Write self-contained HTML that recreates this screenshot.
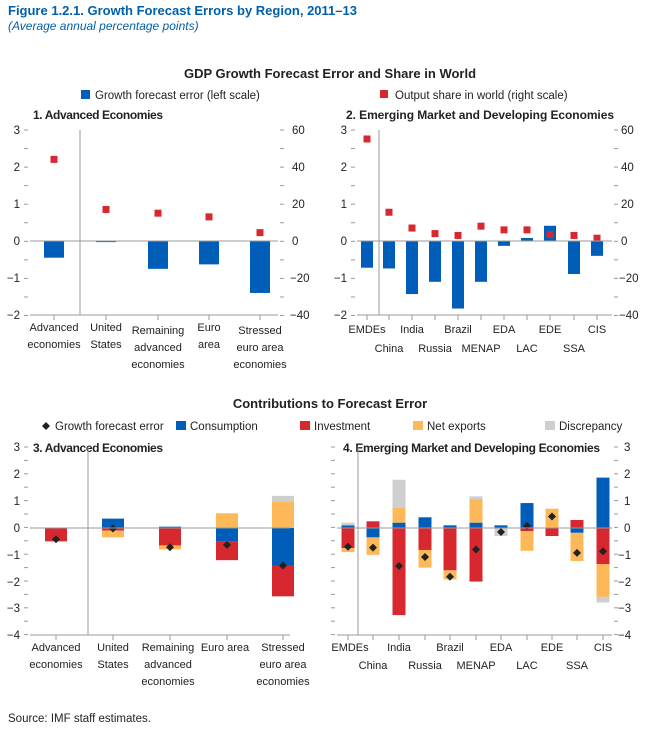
<!DOCTYPE html>
<html><head><meta charset="utf-8"><style>
body{margin:0;background:#fff;}
svg{display:block;font-family:"Liberation Sans",sans-serif;}
.t{font-size:11.5px;fill:#222}
.b{font-weight:bold;font-size:12px;fill:#222}
</style></head><body>
<svg id="s" width="662" height="729" viewBox="0 0 662 729">
<text x="8" y="15" style="font-size:13px;font-weight:bold;fill:#0060A9">Figure 1.2.1.  Growth Forecast Errors by Region, 2011–13</text>
<text x="8" y="30" style="font-size:12px;font-style:italic;fill:#0060A9">(Average annual percentage points)</text>
<text x="330" y="78" text-anchor="middle" class="b" style="font-size:13px">GDP Growth Forecast Error and Share in World</text>
<rect x="81" y="90" width="9" height="9" fill="#005EB8"/><text x="95" y="99" class="t">Growth forecast error (left scale)</text>
<rect x="380" y="90" width="8" height="8" fill="#D7282F"/><text x="395" y="99" class="t">Output share in world (right scale)</text>
<text x="33" y="119" class="b" textLength="130">1. Advanced Economies</text>
<text x="346" y="119" class="b" textLength="268">2. Emerging Market and Developing Economies</text>
<g class="t" text-anchor="end">
<text x="20" y="134">3</text><text x="20" y="171">2</text><text x="20" y="208">1</text><text x="20" y="245">0</text><text x="20" y="282">−1</text><text x="20" y="319">−2</text>
<text x="347" y="134">3</text><text x="347" y="171">2</text><text x="347" y="208">1</text><text x="347" y="245">0</text><text x="347" y="282">−1</text><text x="347" y="319">−2</text>
</g>
<g class="t">
<text x="292" y="134">60</text><text x="292" y="171">40</text><text x="292" y="208">20</text><text x="292" y="245">0</text><text x="290" y="282">−20</text><text x="290" y="319">−40</text>
<text x="621" y="134">60</text><text x="621" y="171">40</text><text x="621" y="208">20</text><text x="621" y="245">0</text><text x="619" y="282">−20</text><text x="619" y="319">−40</text>
</g>
<g class="t" text-anchor="middle" style="font-size:11px">
<text x="54" y="331">Advanced</text><text x="54" y="348">economies</text>
<text x="106" y="331">United</text><text x="106" y="348">States</text>
<text x="158" y="334">Remaining</text><text x="158" y="351">advanced</text><text x="158" y="368">economies</text>
<text x="209" y="331">Euro</text><text x="209" y="348">area</text>
<text x="260" y="334">Stressed</text><text x="260" y="351">euro area</text><text x="260" y="368">economies</text>
<text x="367" y="333">EMDEs</text><text x="389" y="352">China</text><text x="412" y="333">India</text><text x="435" y="352">Russia</text><text x="458" y="333">Brazil</text><text x="481" y="352">MENAP</text><text x="504" y="333">EDA</text><text x="527" y="352">LAC</text><text x="550" y="333">EDE</text><text x="574" y="352">SSA</text><text x="597" y="333">CIS</text>
</g>
<text x="330" y="408" text-anchor="middle" class="b" style="font-size:13px">Contributions to Forecast Error</text>
<path d="M46 422 l4 4 l-4 4 l-4 -4z" fill="#222"/><text x="55" y="430" class="t">Growth forecast error</text>
<rect x="176" y="421" width="10" height="9" fill="#005EB8"/><text x="190" y="430" class="t">Consumption</text>
<rect x="300" y="421" width="10" height="9" fill="#D7282F"/><text x="314" y="430" class="t">Investment</text>
<rect x="413" y="421" width="10" height="9" fill="#FDB859"/><text x="427" y="430" class="t">Net exports</text>
<rect x="545" y="421" width="10" height="9" fill="#CFCFCF"/><text x="559" y="430" class="t">Discrepancy</text>
<text x="33" y="452" class="b" textLength="130">3. Advanced Economies</text>
<text x="343" y="452" class="b" textLength="257">4. Emerging Market and Developing Economies</text>
<g class="t" text-anchor="end">
<text x="20" y="451">3</text><text x="20" y="478">2</text><text x="20" y="505">1</text><text x="20" y="532">0</text><text x="20" y="559">−1</text><text x="20" y="586">−2</text><text x="20" y="612">−3</text><text x="20" y="639">−4</text>
</g>
<g class="t">
<text x="624" y="451">3</text><text x="624" y="478">2</text><text x="624" y="505">1</text><text x="624" y="532">0</text><text x="618" y="559">−1</text><text x="618" y="586">−2</text><text x="618" y="612">−3</text><text x="618" y="639">−4</text>
</g>
<g class="t" text-anchor="middle" style="font-size:11px">
<text x="56" y="651">Advanced</text><text x="56" y="668">economies</text>
<text x="113" y="651">United</text><text x="113" y="668">States</text>
<text x="168" y="651">Remaining</text><text x="168" y="668">advanced</text><text x="168" y="685">economies</text>
<text x="225" y="651">Euro area</text>
<text x="283" y="651">Stressed</text><text x="283" y="668">euro area</text><text x="283" y="685">economies</text>
<text x="350" y="651">EMDEs</text><text x="373" y="669">China</text><text x="399" y="651">India</text><text x="425" y="669">Russia</text><text x="450" y="651">Brazil</text><text x="476" y="669">MENAP</text><text x="501" y="651">EDA</text><text x="527" y="669">LAC</text><text x="552" y="651">EDE</text><text x="577" y="669">SSA</text><text x="603" y="651">CIS</text>
</g>
<text x="8" y="722" class="t" style="font-size:11.5px">Source: IMF staff estimates.</text>
<g id="gg"></g>
</svg>
<script>
var gg=document.getElementById('gg'),NS="http://www.w3.org/2000/svg";
function el(n,a){var e=document.createElementNS(NS,n);for(var k in a)e.setAttribute(k,a[k]);gg.appendChild(e);return e;}
function ln(x1,y1,x2,y2,c){el('line',{x1:x1,y1:y1,x2:x2,y2:y2,stroke:c||'#999','stroke-width':1});}
var B='#005EB8',R='#D7282F',O='#FDB859',G='#CFCFCF';
function topPanel(x0,x1,sep,cats,vals,shares,w){
 var z=241,u=37.1;
 for(var i=0;i<=10;i++){var y=130+i*18.55;ln(x0-6,y,x0-2,y,'#999');ln(x1+2,y,x1+6,y,'#999');}
 ln(x0,315,x1,315,'#999');ln(sep,130,sep,315,'#999');
 for(var i=0;i<cats.length;i++){var c=cats[i];ln(c,315,c,320,'#999');var v=vals[i];
  el('rect',{x:c-w/2,y:v<0?z:z-v*u,width:w,height:Math.abs(v)*u,fill:B});
  var sy=z-shares[i]*1.855;el('rect',{x:c-3.5,y:sy-3.5,width:7,height:7,fill:R});}
 ln(x0,z,x1,z,'#999');
}
topPanel(30,278,80,[54,106,158,209,260],[-0.45,-0.03,-0.75,-0.63,-1.4],[44,17,15,13,4.5],20);
topPanel(357,612,379,[367,389,412,435,458,481,504,527,550,574,597],[-0.72,-0.74,-1.43,-1.1,-1.82,-1.1,-0.13,0.08,0.41,-0.89,-0.4],[55,15.5,7,4,3,8,6,6,3.5,3,1.5],12);
function botPanel(x0,x1,sep,cats,data,w,left,right){
 var z=528,u=26.8;
 for(var i=0;i<=14;i++){var y=447+i*13.4;if(left)ln(x0-6,y,x0-2,y,'#999');if(right)ln(x1+2,y,x1+6,y,'#999');}
 ln(x0,635,x1,635,'#999');ln(sep,447,sep,635,'#999');
 for(var i=0;i<cats.length;i++){var c=cats[i];ln(c,635,c,640,'#999');
  var segs=data[i][0];
  for(var j=0;j<segs.length;j++){var s=segs[j],a=s[0],b=s[1];el('rect',{x:c-w/2,y:z-Math.max(a,b)*u,width:w,height:Math.abs(b-a)*u,fill:s[2]});}
  var dy=z-data[i][1]*u;el('path',{d:'M'+c+' '+(dy-4)+' l4 4 l-4 4 l-4 -4z',fill:'#222'});}
 ln(x0,z,x1,z,'#999');
}
botPanel(30,290,88,[56,113,170,227,283],[
 [[[0,-0.5,R]],-0.42],
 [[[0,0.35,B],[0,-0.1,R],[-0.1,-0.35,O]],-0.02],
 [[[0,0.05,B],[0,-0.65,R],[-0.65,-0.8,O]],-0.72],
 [[[0,0.55,O],[0,-0.5,B],[-0.5,-1.2,R]],-0.63],
 [[[0,1.0,O],[1.0,1.2,G],[0,-1.4,B],[-1.4,-2.55,R]],-1.4]],22,true,false);
botPanel(337,612,358,[348,373,399,425,450,476,501,527,552,577,603],[
 [[[0,0.1,B],[0.1,0.2,G],[0,-0.75,R],[-0.75,-0.9,O]],-0.7],
 [[[0,0.25,R],[0,-0.35,B],[-0.35,-1.0,O]],-0.73],
 [[[0,0.2,B],[0.2,0.77,O],[0.77,1.8,G],[0,-3.25,R]],-1.42],
 [[[0,0.4,B],[0,-0.82,R],[-0.82,-1.48,O]],-1.08],
 [[[0,0.1,B],[0,-1.58,R],[-1.58,-1.92,O]],-1.82],
 [[[0,0.2,B],[0.2,1.08,O],[1.08,1.18,G],[0,-2.0,R]],-0.8],
 [[[0,0.1,B],[0,-0.3,G]],-0.15],
 [[[0,0.93,B],[0,-0.12,R],[-0.12,-0.85,O]],0.08],
 [[[0,0.72,O],[0,-0.3,R]],0.43],
 [[[0,0.3,R],[0,-0.18,B],[-0.18,-1.23,O]],-0.93],
 [[[0,1.88,B],[0,-1.35,R],[-1.35,-2.57,O],[-2.57,-2.78,G]],-0.87]],13,true,true);
</script>
</body></html>
